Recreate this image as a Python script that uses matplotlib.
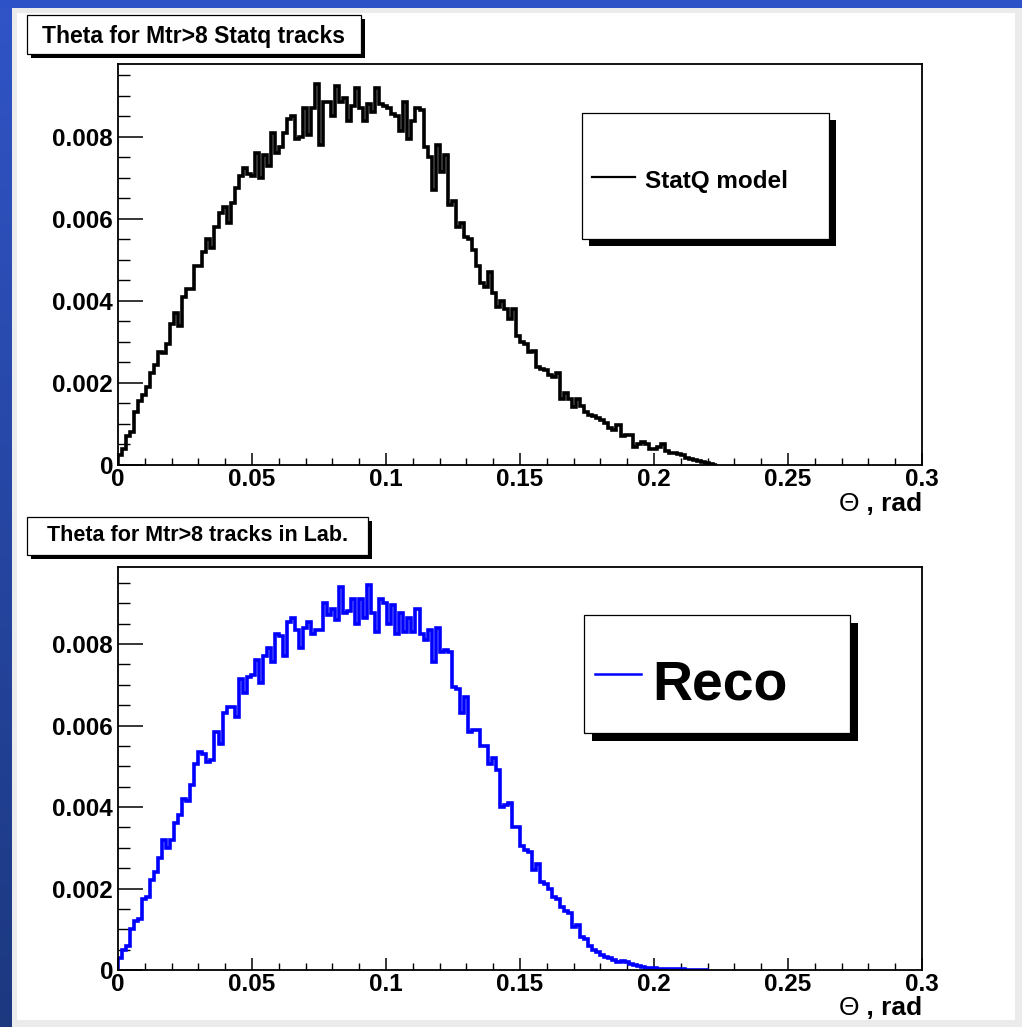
import numpy as np
import matplotlib
matplotlib.use("Agg")
import matplotlib.pyplot as plt
from matplotlib.patches import Rectangle
from matplotlib.lines import Line2D
from matplotlib.ticker import MultipleLocator

plt.rcParams['font.family'] = ['Liberation Sans', 'DejaVu Sans']
plt.rcParams['font.weight'] = 'bold'

# ---------------- data (bin contents, units of 1e-3) ----------------
bin_width = 0.0015
statq_vals = [0.25, 0.4, 0.7, 0.8, 1.3, 1.55, 1.7, 1.9, 2.25, 2.45,
              2.75, 2.72, 2.95, 3.45, 3.7, 3.4, 4.1, 4.3, 4.3, 4.85,
              4.85, 5.2, 5.5, 5.3, 5.8, 6.15, 6.3, 5.9, 6.4, 6.75,
              7.05, 7.25, 7.1, 7.05, 7.6, 7.0, 7.55, 7.3, 8.1, 7.6,
              7.75, 8.1, 8.45, 8.5, 7.95, 8.0, 8.7, 8.05, 8.7, 9.3,
              7.8, 8.85, 8.85, 8.5, 9.25, 8.85, 8.95, 8.4, 8.75, 9.2,
              8.7, 8.4, 8.8, 8.6, 9.2, 8.8, 8.75, 8.7, 8.55, 8.5,
              8.15, 8.85, 7.95, 8.4, 8.7, 8.65, 7.75, 7.5, 6.7, 7.8,
              7.15, 7.55, 6.35, 6.45, 5.8, 5.9, 5.55, 5.5, 5.25, 4.85,
              4.45, 4.35, 4.7, 4.2, 3.85, 4.0, 3.8, 3.55, 3.8, 3.15,
              3.0, 2.95, 2.75, 2.78, 2.4, 2.35, 2.32, 2.2, 2.15, 2.25,
              1.6, 1.75, 1.6, 1.42, 1.62, 1.45, 1.3, 1.22, 1.2, 1.15,
              1.1, 1.02, 0.9, 0.85, 0.98, 0.7, 0.72, 0.74, 0.45, 0.5,
              0.55, 0.5, 0.38, 0.4, 0.45, 0.5, 0.33, 0.3, 0.29, 0.26,
              0.24, 0.18, 0.15, 0.12, 0.09, 0.07, 0.05, 0.03, 0.01]
reco_vals = [0.3, 0.5, 0.6, 1.0, 1.2, 1.25, 1.75, 1.78, 2.2, 2.4,
             2.75, 3.2, 3.0, 3.2, 3.6, 3.8, 4.2, 4.15, 4.55, 5.05,
             5.35, 5.3, 5.1, 5.15, 5.85, 5.55, 6.3, 6.45, 6.45, 6.2,
             7.15, 6.8, 7.2, 7.25, 7.6, 7.05, 7.7, 7.9, 7.55, 8.25,
             8.2, 7.7, 8.55, 8.65, 8.35, 7.9, 8.4, 8.55, 8.25, 8.35,
             8.35, 9.0, 8.7, 8.85, 8.6, 9.4, 8.75, 8.8, 9.1, 8.5,
             9.1, 8.65, 9.45, 8.75, 8.3, 9.1, 9.0, 8.5, 8.95, 8.25,
             8.75, 8.3, 8.65, 8.3, 8.85, 8.25, 8.1, 8.35, 7.55, 8.4,
             7.8, 7.85, 7.8, 6.95, 6.9, 6.3, 6.7, 5.85, 5.9, 5.9,
             5.5, 5.5, 5.05, 5.2, 4.9, 4.0, 4.05, 4.1, 3.5, 3.5,
             3.05, 2.95, 2.9, 2.45, 2.6, 2.15, 2.1, 2.0, 1.8, 1.75,
             1.55, 1.45, 1.4, 1.05, 1.1, 0.8, 0.75, 0.6, 0.5, 0.45,
             0.38, 0.33, 0.3, 0.25, 0.2, 0.22, 0.2, 0.14, 0.12, 0.1,
             0.07, 0.05, 0.05, 0.04, 0.035, 0.03, 0.025, 0.02, 0.02, 0.02,
             0.015, 0.01, 0.01, 0.01, 0.008, 0.006, 0.005]
xtick_vals = [0, 0.05, 0.1, 0.15, 0.2, 0.25, 0.3]
xtick_labels = ['0', '0.05', '0.1', '0.15', '0.2', '0.25', '0.3']
ytick_vals = [0, 0.002, 0.004, 0.006, 0.008]
ytick_labels = ['0', '0.002', '0.004', '0.006', '0.008']
titles = ['Theta for Mtr>8 Statq tracks', 'Theta for Mtr>8 tracks in Lab.']
legend_labels = ['StatQ model', 'Reco']
xlabel_sym = '\u0398'
xlabel_unit = ' , rad'

W, H = 1022, 1027
fig = plt.figure(figsize=(W / 100, H / 100), dpi=100)
fig.patch.set_facecolor('#ebebeb')
renderer = fig.canvas.get_renderer()


def fx(x):
    return x / W


def fy(y):
    return 1 - y / H


def prect(x0, y0, x1, y1, **kw):
    r = Rectangle((fx(x0), fy(y1)), (x1 - x0) / W, (y1 - y0) / H,
                  transform=fig.transFigure, **kw)
    fig.patches.append(r)
    return r


# white canvas (behind axes)
prect(17, 13, 1015, 1020, facecolor='white', edgecolor='none', zorder=-5)

# blue gradient strips
top_c = np.array([0.19, 0.33, 0.78])
bot_c = np.array([0.11, 0.22, 0.50])
t = np.linspace(0, 1, H)[:, None, None]
left_strip = (top_c * (1 - t) + bot_c * t) * np.ones((H, 12, 3))
fig.figimage(left_strip, xo=0, yo=0, origin='upper', zorder=-5)
top_strip = np.ones((8, W, 3)) * np.array([0.18, 0.32, 0.78])
fig.figimage(top_strip, xo=0, yo=H - 8, origin='upper', zorder=-5)


def boxed_text(x0, y0, x1, y1, shadow, zorder=5):
    prect(x0 + shadow, y0 + shadow, x1 + shadow, y1 + shadow,
          facecolor='black', edgecolor='none', zorder=zorder)
    prect(x0, y0, x1, y1, facecolor='white', edgecolor='black',
          linewidth=0.9, zorder=zorder + 0.1)


panels = [
    dict(vals=statq_vals, color='black', axpx=(118, 64, 922, 465),
         ymax=0.00978, title_box=(27, 15, 361, 54, 4), title_base=43, title_fs=16.5,
         leg_box=(582, 113, 829, 239, 7), leg_line=(592, 635, 177), leg_text=(645, 188),
         leg_fs=17.5, leg_lw=1.6, xlab_base=511),
    dict(vals=reco_vals, color='#0000ff', axpx=(118, 567, 922, 970),
         ymax=0.00989, title_box=(27, 517, 368, 555, 4), title_base=541, title_fs=15.5,
         leg_box=(584, 615, 850, 733, 8), leg_line=(595, 641, 674), leg_text=(652, 700),
         leg_fs=40, leg_lw=1.8, xlab_base=1015),
]

for k, p in enumerate(panels):
    x0, y0, x1, y1 = p['axpx']
    ax = fig.add_axes([fx(x0), fy(y1), (x1 - x0) / W, (y1 - y0) / H], zorder=1)
    ax.set_facecolor('white')
    vals = np.array(p['vals']) * 1e-3
    edges = np.arange(len(vals) + 1) * bin_width
    ax.stairs(vals, edges, color=p['color'], linewidth=2.6, baseline=0, zorder=2)
    ax.set_xlim(0, 0.3)
    ax.set_ylim(0, p['ymax'])
    ax.set_xticks(xtick_vals, xtick_labels)
    ax.set_yticks(ytick_vals, ytick_labels)
    ax.xaxis.set_minor_locator(MultipleLocator(0.01))
    ax.yaxis.set_minor_locator(MultipleLocator(0.0005))
    ax.tick_params(axis='y', which='major', direction='in', length=18, width=1.1,
                   labelsize=17.5, pad=3.5, right=False)
    ax.tick_params(axis='y', which='minor', direction='in', length=8.6, width=1.0, right=False)
    ax.tick_params(axis='x', which='major', direction='in', length=8.6, width=1.1,
                   labelsize=17.5, pad=2.0, top=False)
    ax.tick_params(axis='x', which='minor', direction='in', length=5, width=1.0, top=False)
    for lab in ax.get_xticklabels() + ax.get_yticklabels():
        lab.set_fontweight('bold')
    for s in ax.spines.values():
        s.set_linewidth(1.3)
        s.set_zorder(3)

    # axis title: regular Theta followed by bold ", rad", right-aligned at axis end
    unit_txt = fig.text(fx(922), fy(p['xlab_base']), xlabel_unit, ha='right', va='baseline',
                        fontsize=19, fontweight='bold')
    bb = unit_txt.get_window_extent(renderer=renderer)
    fig.text(bb.x0 / W, fy(p['xlab_base']), xlabel_sym, ha='right', va='baseline',
             fontsize=19, fontweight='normal')

    bx0, by0, bx1, by1, sh = p['title_box']
    boxed_text(bx0, by0, bx1, by1, sh)
    fig.text(fx((bx0 + bx1) / 2), fy(p['title_base']), titles[k],
             ha='center', va='baseline', fontsize=p['title_fs'], fontweight='bold', zorder=6)

    lx0, ly0, lx1, ly1, lsh = p['leg_box']
    boxed_text(lx0, ly0, lx1, ly1, lsh, zorder=7)
    a, b, yl = p['leg_line']
    fig.lines.append(Line2D([fx(a), fx(b)], [fy(yl), fy(yl)], transform=fig.transFigure,
                            color=p['color'], linewidth=p['leg_lw'], zorder=8))
    tx, ty = p['leg_text']
    fig.text(fx(tx), fy(ty), legend_labels[k], ha='left', va='baseline',
             fontsize=p['leg_fs'], fontweight='bold', zorder=8)

fig.savefig('out.png', dpi=100, facecolor=fig.get_facecolor())
